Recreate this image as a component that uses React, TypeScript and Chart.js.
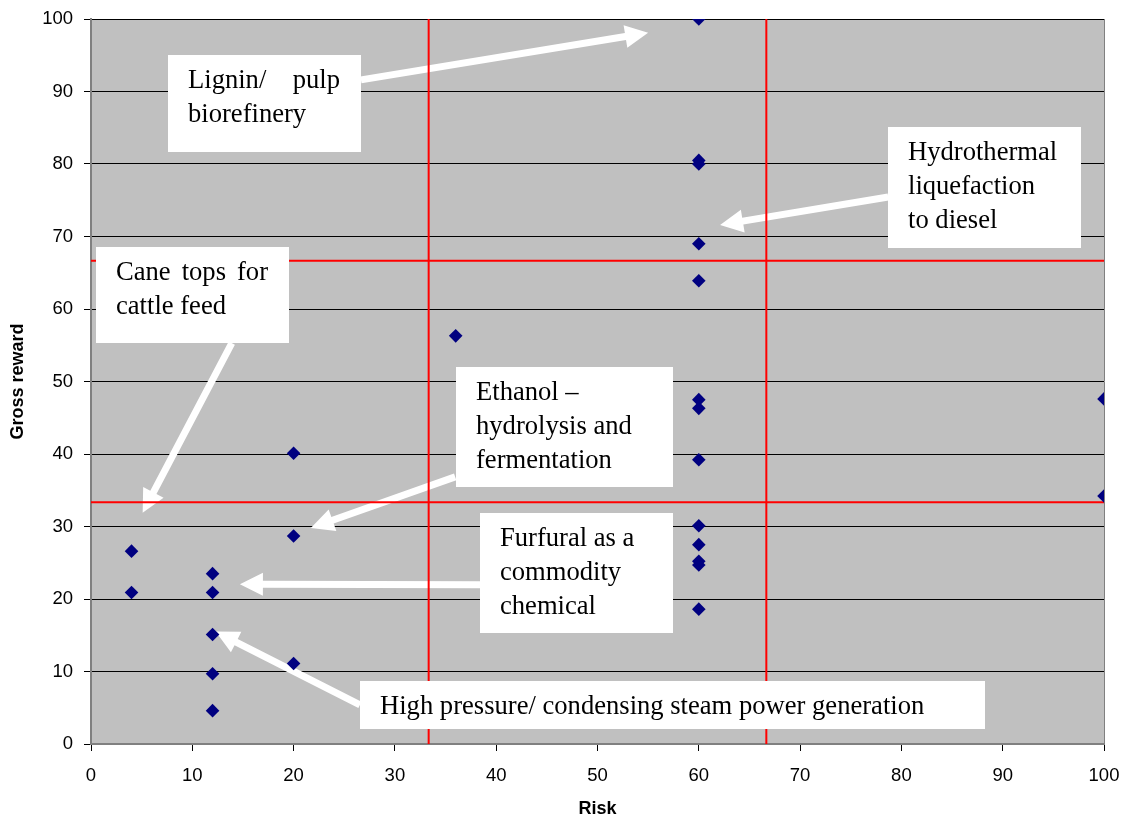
import React, { useEffect, useRef } from "react";
import { Chart, registerables } from "chart.js";

Chart.register(...registerables);

// Each processing option: risk score (x) and gross reward score (y)
const riskScores = [4, 4, 12, 12, 12, 12, 12, 20, 20, 20, 36, 60, 60, 60, 60, 60, 60, 60, 60, 60, 60, 60, 60, 60, 100, 100];
const rewardScores = [26.6, 20.9, 23.5, 20.9, 15.1, 9.7, 4.6, 40.1, 28.7, 11.1, 56.3, 100, 80.5, 80.0, 69.0, 63.9, 47.5, 46.3, 39.2, 30.1, 27.5, 25.2, 24.7, 18.6, 47.6, 34.2];

// Thirds that split the plot into low / medium / high zones
const zoneThresholds = [100 / 3, 200 / 3];

const axisMin = 0;
const axisMax = 100;
const axisStep = 10;

// Callout text, box corners [x1, y1, x2, y2] and arrows [fromX, fromY, toX, toY], in data units
const calloutLines = [
  ["Lignin/ pulp", "biorefinery"],
  ["Hydrothermal", "liquefaction", "to diesel"],
  ["Cane tops for", "cattle feed"],
  ["Ethanol \u2013", "hydrolysis and", "fermentation"],
  ["Furfural as a", "commodity", "chemical"],
  ["High pressure/ condensing steam power generation"],
];
const calloutJustified = [true, false, true, false, false, false];
const calloutBoxes = [
  [7.6, 95.0, 26.65, 81.65],
  [78.7, 85.1, 97.75, 68.4],
  [0.5, 68.55, 19.55, 55.3],
  [36.05, 52.0, 57.45, 35.45],
  [38.4, 31.85, 57.45, 15.3],
  [26.55, 8.7, 88.25, 2.05],
];
const calloutArrows = [
  [26.65, 91.6, 55.0, 98.1],
  [78.7, 75.45, 62.1, 71.6],
  [13.9, 55.3, 5.1, 31.9],
  [35.95, 36.85, 21.7, 29.8],
  [38.4, 21.95, 14.7, 22.05],
  [26.55, 5.4, 12.3, 15.5],
];

const SANS = "'Liberation Sans', Arial, sans-serif";
const SERIF = "'Liberation Serif', 'Times New Roman', serif";

function drawArrow(ctx: CanvasRenderingContext2D, x1: number, y1: number, x2: number, y2: number) {
  const ang = Math.atan2(y2 - y1, x2 - x1);
  const len = Math.hypot(x2 - x1, y2 - y1);
  const sw = 3.5;
  const hl = 23;
  const hw = 11.5;
  ctx.save();
  ctx.translate(x1, y1);
  ctx.rotate(ang);
  ctx.beginPath();
  ctx.moveTo(0, -sw);
  ctx.lineTo(len - hl, -sw);
  ctx.lineTo(len - hl, -hw);
  ctx.lineTo(len, 0);
  ctx.lineTo(len - hl, hw);
  ctx.lineTo(len - hl, sw);
  ctx.lineTo(0, sw);
  ctx.closePath();
  ctx.fillStyle = "#ffffff";
  ctx.fill();
  ctx.restore();
}

const plotBackground = {
  id: "plotBackground",
  beforeDraw(chart: any) {
    const { ctx, chartArea } = chart;
    ctx.save();
    ctx.fillStyle = "#c0c0c0";
    ctx.fillRect(chartArea.left, chartArea.top, chartArea.right - chartArea.left, chartArea.bottom - chartArea.top);
    ctx.restore();
  },
};

const callouts = {
  id: "callouts",
  beforeDatasetsDraw(chart: any) {
    const { ctx, chartArea, scales } = chart;
    const xs = scales.x;
    const ys = scales.y;
    // right edge of the plot frame
    ctx.save();
    ctx.strokeStyle = "#808080";
    ctx.lineWidth = 1;
    ctx.beginPath();
    ctx.moveTo(chartArea.right + 0.5, chartArea.top);
    ctx.lineTo(chartArea.right + 0.5, chartArea.bottom);
    ctx.stroke();
    ctx.restore();
    calloutArrows.forEach(([fx, fy, tx, ty]) => {
      drawArrow(ctx, xs.getPixelForValue(fx), ys.getPixelForValue(fy), xs.getPixelForValue(tx), ys.getPixelForValue(ty));
    });
  },
  afterDatasetsDraw(chart: any) {
    const { ctx, scales } = chart;
    const xs = scales.x;
    const ys = scales.y;
    const padX = 20;
    const firstLine = 26.5;
    const lineGap = 34;
    ctx.save();
    calloutBoxes.forEach(([bx1, by1, bx2, by2], i) => {
      const left = Math.round(xs.getPixelForValue(bx1));
      const top = Math.round(ys.getPixelForValue(by1));
      const right = Math.round(xs.getPixelForValue(bx2));
      const bottom = Math.round(ys.getPixelForValue(by2));
      ctx.fillStyle = "#ffffff";
      ctx.fillRect(left, top, right - left, bottom - top);
      ctx.fillStyle = "#000000";
      ctx.font = `26.6px ${SERIF}`;
      ctx.textBaseline = "middle";
      ctx.textAlign = "left";
      const lines = calloutLines[i];
      lines.forEach((line, j) => {
        const y = top + firstLine + j * lineGap;
        const words = line.split(" ");
        if (calloutJustified[i] && j < lines.length - 1 && words.length > 1) {
          const avail = right - padX - 1 - (left + padX);
          const wordsWidth = words.reduce((s, w) => s + ctx.measureText(w).width, 0);
          const gap = (avail - wordsWidth) / (words.length - 1);
          let x = left + padX;
          words.forEach((w) => {
            ctx.fillText(w, x, y);
            x += ctx.measureText(w).width + gap;
          });
        } else {
          ctx.fillText(line, left + padX, y);
        }
      });
    });
    ctx.restore();
  },
};

export default function App() {
  const canvasRef = useRef<HTMLCanvasElement | null>(null);

  useEffect(() => {
    if (!canvasRef.current) return;
    const points = riskScores.map((x, i) => ({ x, y: rewardScores[i] }));
    const zoneLines: any[] = [];
    zoneThresholds.forEach((t) => {
      zoneLines.push({
        data: [{ x: t, y: axisMin }, { x: t, y: axisMax }],
        showLine: true,
        borderColor: "#ff0000",
        borderWidth: 2,
        pointRadius: 0,
        pointHoverRadius: 0,
      });
      zoneLines.push({
        data: [{ x: axisMin, y: t }, { x: axisMax, y: t }],
        showLine: true,
        borderColor: "#ff0000",
        borderWidth: 2,
        pointRadius: 0,
        pointHoverRadius: 0,
      });
    });

    const chart = new Chart(canvasRef.current, {
      type: "scatter",
      data: {
        datasets: [
          {
            data: points,
            pointStyle: "rectRot",
            pointRadius: 6.8,
            pointHoverRadius: 6.8,
            backgroundColor: "#000080",
            borderColor: "#000080",
            borderWidth: 0,
          },
          ...zoneLines,
        ],
      },
      options: {
        animation: false,
        responsive: true,
        maintainAspectRatio: false,
        devicePixelRatio: 1,
        layout: { padding: { top: 19, right: 22, left: 0, bottom: 0 } },
        plugins: {
          legend: { display: false },
          tooltip: { enabled: false },
        },
        scales: {
          x: {
            type: "linear",
            min: axisMin,
            max: axisMax,
            ticks: {
              stepSize: axisStep,
              color: "#000",
              padding: 14,
              font: { family: SANS, size: 18.5 },
            },
            grid: {
              drawOnChartArea: false,
              drawTicks: true,
              tickLength: 7,
              color: "#000",
            },
            border: { color: "#808080", width: 2 },
            title: {
              display: true,
              text: "Risk",
              color: "#000",
              padding: { top: 0, bottom: 0 },
              font: { family: SANS, size: 18, weight: "bold", lineHeight: 1 },
            },
            afterFit(scale: any) {
              scale.height = 74;
              scale.paddingLeft = 0;
              scale.paddingRight = 0;
            },
          },
          y: {
            type: "linear",
            min: axisMin,
            max: axisMax,
            ticks: {
              stepSize: axisStep,
              color: "#000",
              padding: 11,
              font: { family: SANS, size: 18.5 },
            },
            grid: {
              drawOnChartArea: true,
              drawTicks: true,
              tickLength: 7,
              color: "#000",
              lineWidth: 1,
            },
            border: { color: "#808080", width: 2 },
            title: {
              display: true,
              text: "Gross reward",
              color: "#000",
              padding: { top: 9, bottom: 0 },
              font: { family: SANS, size: 18, weight: "bold", lineHeight: 1 },
            },
            afterFit(scale: any) {
              scale.width = 91;
              scale.paddingTop = 0;
              scale.paddingBottom = 0;
            },
          },
        },
      },
      plugins: [plotBackground, callouts],
    });

    return () => chart.destroy();
  }, []);

  return (
    <div style={{ position: "absolute", left: 0, top: 0, width: 1126, height: 818, background: "#fff" }}>
      <canvas ref={canvasRef} />
    </div>
  );
}
